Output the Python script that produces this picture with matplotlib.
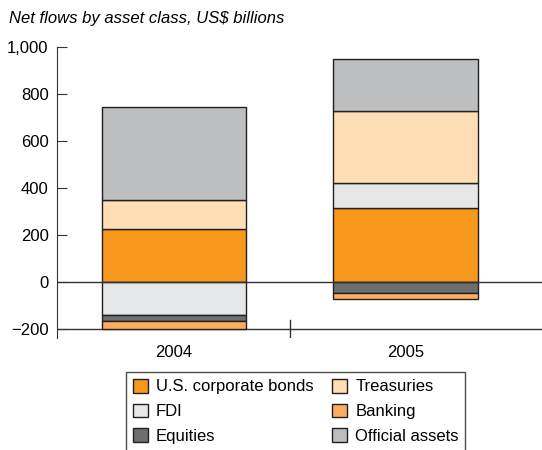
import matplotlib.pyplot as plt
import numpy as np
from matplotlib.patches import Patch

plt.rcParams['font.family'] = ['Liberation Sans', 'DejaVu Sans']
plt.rcParams['font.size'] = 12

years = ["2004", "2005"]
# positive components
corp_bonds = [225, 316]
fdi = [-142, 106]
treasuries = [124, 307]
official = [396, 220]
# negative components
equities = [-26, -48]
banking = [-32, -27]

colors = {
    "U.S. corporate bonds": "#F7981D",
    "FDI": "#E6E7E8",
    "Equities": "#6D6E70",
    "Treasuries": "#FFDEB5",
    "Banking": "#FBAE60",
    "Official assets": "#BCBEC0",
}
edge = "#231F20"

fig = plt.figure(figsize=(5.42, 4.5), dpi=100)
ax = fig.add_axes([57 / 542, 112 / 450, 1 - 57 / 542, 291 / 450])

x = np.arange(len(years))
w = 0.623
kw = dict(width=w, edgecolor=edge, linewidth=1, zorder=3)

# stack positives upward and negatives downward
pos = np.zeros(2)
neg = np.zeros(2)
order = [("U.S. corporate bonds", corp_bonds), ("FDI", fdi), ("Treasuries", treasuries),
         ("Official assets", official), ("Equities", equities), ("Banking", banking)]
for name, vals in order:
    for i, v in enumerate(vals):
        if v >= 0:
            ax.bar(x[i], v, bottom=pos[i], color=colors[name], **kw)
            pos[i] += v
        else:
            ax.bar(x[i], v, bottom=neg[i], color=colors[name], **kw)
            neg[i] += v

ax.set_xlim(-0.506, 1.59)
ax.set_ylim(-240, 1000)
ax.axhline(0, color="#333333", lw=1, zorder=4)
ax.axhline(-200, color="#333333", lw=1, zorder=2)
ax.plot([0.5, 0.5], [-162, -234], color="#333333", lw=1, zorder=2)

for s in ["top", "right", "bottom"]:
    ax.spines[s].set_visible(False)
ax.spines["left"].set_color("#333333")

ax.set_yticks([-200, 0, 200, 400, 600, 800, 1000])
ax.set_yticklabels(["\u2212200", "0", "200", "400", "600", "800", "1,000"])
ax.tick_params(axis="y", direction="in", length=7, color="#333333", pad=6)
ax.set_xticks(x)
ax.set_xticklabels(years)
ax.tick_params(axis="x", length=0, pad=5)

fig.text(9 / 542, 1 - 18 / 450, "Net flows by asset class, US$ billions",
         style="italic", va="center", ha="left")

legend_names = ["U.S. corporate bonds", "FDI", "Equities", "Treasuries", "Banking", "Official assets"]
handles = [Patch(facecolor=colors[n], edgecolor=edge, linewidth=1) for n in legend_names]
leg = fig.legend(handles, legend_names, ncol=2, loc="upper left",
                 bbox_to_anchor=(126 / 542, 1 - 372 / 450), borderaxespad=0, frameon=True,
                 fancybox=False, edgecolor=edge, handlelength=0.9, handleheight=0.9,
                 handletextpad=0.5, columnspacing=1.1, labelspacing=0.55, borderpad=0.4)
leg.get_frame().set_linewidth(1)

fig.savefig("out.png", dpi=100)
